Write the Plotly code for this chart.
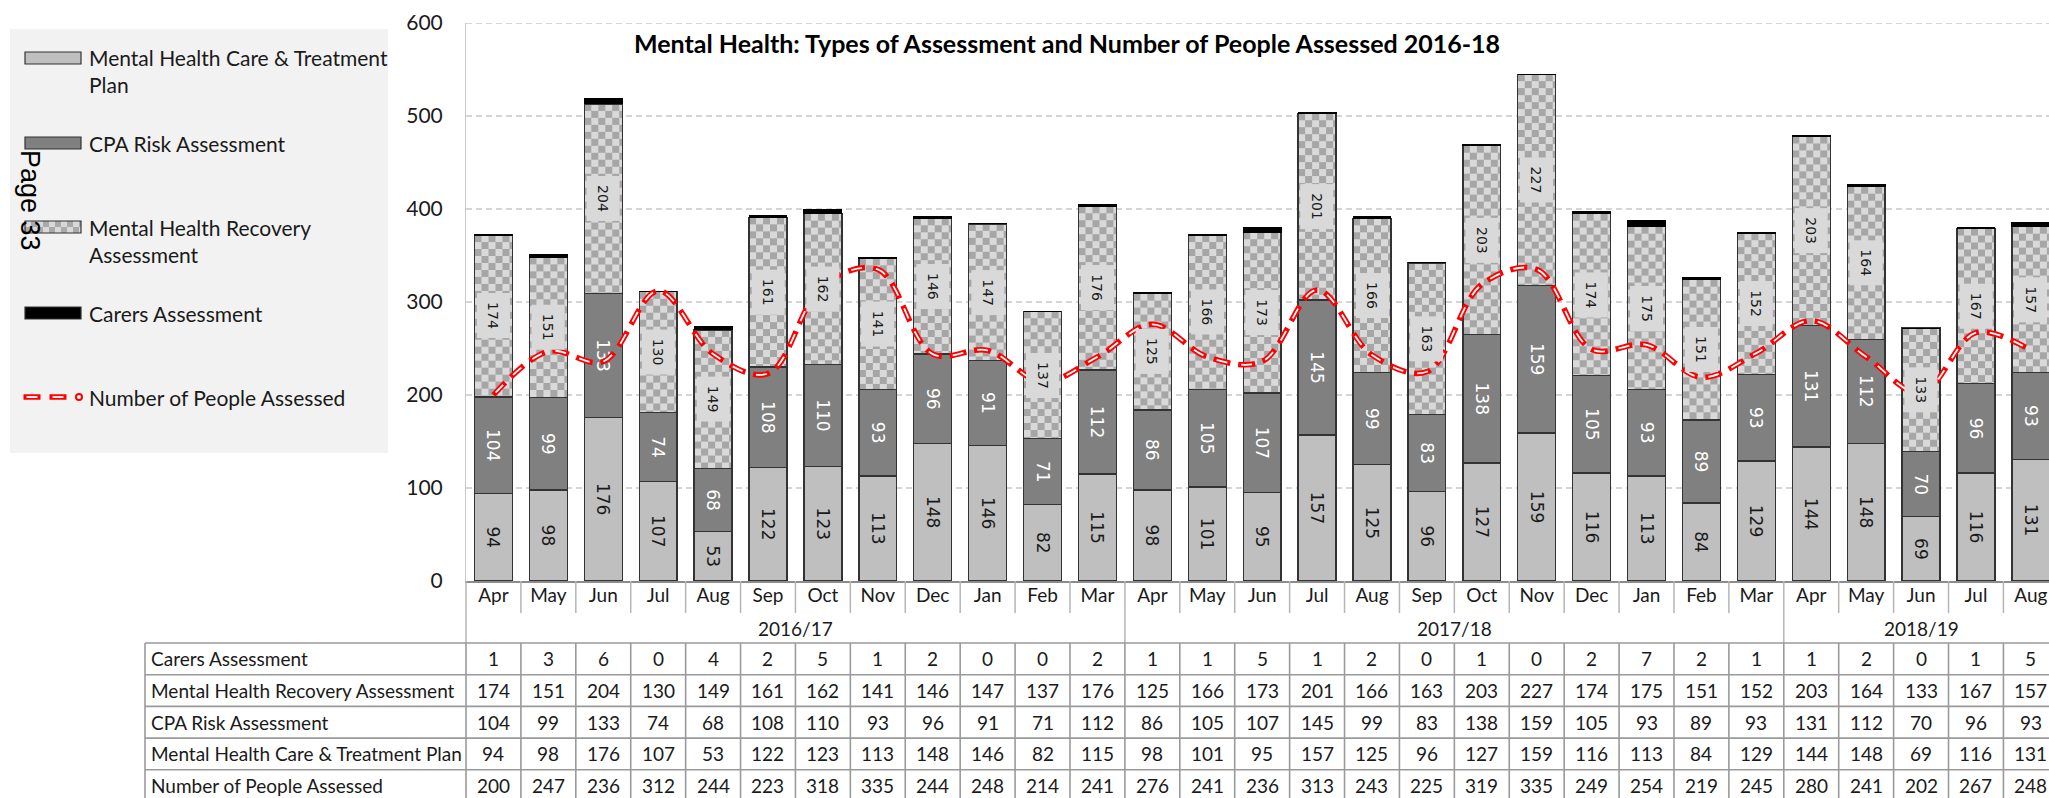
import base64
import struct
import zlib
import plotly.graph_objects as go

# ---------------- data ----------------
months = ["Apr", "May", "Jun", "Jul", "Aug", "Sep", "Oct", "Nov", "Dec", "Jan", "Feb", "Mar",
          "Apr", "May", "Jun", "Jul", "Aug", "Sep", "Oct", "Nov", "Dec", "Jan", "Feb", "Mar",
          "Apr", "May", "Jun", "Jul", "Aug"]
years = ["2016/17"] * 12 + ["2017/18"] * 12 + ["2018/19"] * 5
carers = [1, 3, 6, 0, 4, 2, 5, 1, 2, 0, 0, 2,
          1, 1, 5, 1, 2, 0, 1, 0, 2, 7, 2, 1,
          1, 2, 0, 1, 5]
recovery = [174, 151, 204, 130, 149, 161, 162, 141, 146, 147, 137, 176,
            125, 166, 173, 201, 166, 163, 203, 227, 174, 175, 151, 152,
            203, 164, 133, 167, 157]
cpa = [104, 99, 133, 74, 68, 108, 110, 93, 96, 91, 71, 112,
       86, 105, 107, 145, 99, 83, 138, 159, 105, 93, 89, 93,
       131, 112, 70, 96, 93]
care_plan = [94, 98, 176, 107, 53, 122, 123, 113, 148, 146, 82, 115,
             98, 101, 95, 157, 125, 96, 127, 159, 116, 113, 84, 129,
             144, 148, 69, 116, 131]
people = [200, 247, 236, 312, 244, 223, 318, 335, 244, 248, 214, 241,
          276, 241, 236, 313, 243, 225, 319, 335, 249, 254, 219, 245,
          280, 241, 202, 267, 248]
y_ticks = [0, 100, 200, 300, 400, 500, 600]

name_care = "Mental Health Care & Treatment Plan"
name_cpa = "CPA Risk Assessment"
name_rec = "Mental Health Recovery Assessment"
name_carers = "Carers Assessment"
name_people = "Number of People Assessed"
title_text = "Mental Health: Types of Assessment and Number of People Assessed 2016-18"

table_rows = [(name_carers, carers), (name_rec, recovery), (name_cpa, cpa),
              (name_care, care_plan), (name_people, people)]

# ---------------- geometry ----------------
W, H = 2049, 798
ML, MT, MB, MR = 466, 23, 217, 0
PH = H - MT - MB
PW = W - ML - MR
XR = [-0.5, 28.33]
BW = 0.69
n = len(months)
xs = list(range(n))

FONT = "Lato"
LABEL_FONT = "DejaVu Sans"
TXT = "#1a1a1a"


def px_x(p):
    return (p - ML) / PW


def px_y(p):
    return (H - MB - p) / PH


def cat_paper(v):
    return (v - XR[0]) / (XR[1] - XR[0])


def checker_png(w, h, cell, c1, c2):
    rows = []
    for yy in range(h):
        row = bytearray([0])
        for xx in range(w):
            row += bytes(c1 if ((xx // cell + yy // cell) % 2 == 0) else c2)
        rows.append(bytes(row))
    raw = b"".join(rows)

    def chunk(t, d):
        c = struct.pack(">I", len(d)) + t + d
        return c + struct.pack(">I", zlib.crc32(t + d) & 0xFFFFFFFF)

    png = (b"\x89PNG\r\n\x1a\n"
           + chunk(b"IHDR", struct.pack(">IIBBBBB", w, h, 8, 2, 0, 0, 0))
           + chunk(b"IDAT", zlib.compress(raw, 9))
           + chunk(b"IEND", b""))
    return "data:image/png;base64," + base64.b64encode(png).decode()


CHECK = checker_png(38, 520, 7, (166, 166, 166), (217, 217, 217))
CHECK_SW = checker_png(56, 12, 6, (217, 217, 217), (170, 170, 170))
OUTLINE = dict(color="#333333", width=1.3)

fig = go.Figure()

fig.add_bar(x=xs, y=care_plan, width=BW, name=name_care,
            marker=dict(color="#bfbfbf", line=OUTLINE),
            text=care_plan, textposition="inside", insidetextanchor="middle",
            textangle=90, constraintext="none",
            textfont=dict(family=LABEL_FONT, size=17, color=TXT))
fig.add_bar(x=xs, y=cpa, width=BW, name=name_cpa,
            marker=dict(color="#808080", line=OUTLINE),
            text=cpa, textposition="inside", insidetextanchor="middle",
            textangle=90, constraintext="none",
            textfont=dict(family=LABEL_FONT, size=17, color="white"))
fig.add_bar(x=xs, y=recovery, width=BW, name=name_rec,
            marker=dict(color="rgba(0,0,0,0)", line=OUTLINE))
fig.add_bar(x=xs, y=carers, width=BW, name=name_carers,
            marker=dict(color="#000000", line=dict(color="#000000", width=1)))

fig.add_scatter(x=xs, y=people, mode="lines", name=name_people,
                line=dict(color="#ff0000", width=5.5, dash="17px,8px",
                          shape="spline", smoothing=1))
fig.add_scatter(x=xs, y=people, mode="lines", showlegend=False, hoverinfo="skip",
                line=dict(color="white", width=1.8, dash="0px,3px,11px,11px",
                          shape="spline", smoothing=1))

# checker fill of the recovery segments
images = []
for i in xs:
    top = care_plan[i] + cpa[i] + recovery[i]
    images.append(dict(source=CHECK, xref="x", yref="y", x=i - BW / 2, y=top,
                       sizex=BW, sizey=recovery[i], xanchor="left", yanchor="top",
                       sizing="fill", layer="below"))

shapes = []
annotations = []

# gridlines
for v in y_ticks[1:]:
    shapes.append(dict(type="line", xref="paper", yref="y", x0=0, x1=1, y0=v, y1=v,
                       line=dict(color="#c8c8c8", width=1.3, dash="6px,4px"), layer="below"))

# recovery labels with boxes
for i in xs:
    mid = care_plan[i] + cpa[i] + recovery[i] / 2
    annotations.append(dict(x=i, y=mid, xref="x", yref="y", text=str(recovery[i]),
                            textangle=90, showarrow=False, bgcolor="#d9d9d9",
                            width=44, height=32, borderpad=0,
                            xanchor="center", yanchor="middle",
                            font=dict(family=LABEL_FONT, size=14, color=TXT)))

# ---- category axis area and table ----
AX_Y = H - MB              # 581
MONTH_BOTTOM = 613
TABLE_TOP = 643
ROW_H = 31.7
SEP = dict(color="#b5b5b5", width=1.5)
GRID = dict(color="#9a9a9a", width=1.6)
group_bounds = [i for i in range(1, n) if years[i] != years[i - 1]]

for b in range(n + 1):
    xp = cat_paper(b - 0.5)
    if xp > 1.01:
        continue
    is_group = b == 0 or b in group_bounds
    shapes.append(dict(type="line", xref="paper", yref="paper", x0=xp, x1=xp,
                       y0=px_y(AX_Y), y1=px_y(TABLE_TOP if is_group else MONTH_BOTTOM),
                       line=SEP))
    shapes.append(dict(type="line", xref="paper", yref="paper", x0=xp, x1=xp,
                       y0=px_y(TABLE_TOP), y1=px_y(H + 10), line=GRID))

# year labels
start = 0
for b in group_bounds + [n]:
    annotations.append(dict(x=(start + b - 1) / 2, y=px_y(628), xref="x", yref="paper",
                            text=years[start], showarrow=False,
                            xanchor="center", yanchor="middle",
                            font=dict(family=FONT, size=19, color=TXT)))
    start = b

TABLE_LEFT = 145
shapes.append(dict(type="line", xref="paper", yref="paper", x0=px_x(TABLE_LEFT), x1=px_x(TABLE_LEFT),
                   y0=px_y(TABLE_TOP), y1=px_y(H + 10), line=GRID))
for k in range(len(table_rows) + 1):
    yy = TABLE_TOP + k * ROW_H
    shapes.append(dict(type="line", xref="paper", yref="paper", x0=px_x(TABLE_LEFT), x1=1.01,
                       y0=px_y(yy), y1=px_y(yy), line=GRID))

for k, (label, vals) in enumerate(table_rows):
    yc = px_y(TABLE_TOP + (k + 0.5) * ROW_H)
    annotations.append(dict(x=px_x(TABLE_LEFT + 4), y=yc, xref="paper", yref="paper",
                            text=label, showarrow=False, xanchor="left", yanchor="middle",
                            font=dict(family=FONT, size=19, color=TXT)))
    for i in xs:
        annotations.append(dict(x=i, y=yc, xref="x", yref="paper", text=str(vals[i]),
                                showarrow=False, xanchor="center", yanchor="middle",
                                font=dict(family=FONT, size=19, color=TXT)))

# ---- custom legend ----
shapes.append(dict(type="rect", xref="paper", yref="paper", x0=px_x(10), x1=px_x(388),
                   y0=px_y(29), y1=px_y(453), fillcolor="#f2f2f2", line=dict(width=0),
                   layer="below"))
SW0, SW1 = 25, 81
legend_items = [
    (52, "#bfbfbf", "Mental Health Care & Treatment<br>Plan", 70.5),
    (137, "#808080", name_cpa, 143),
    (221, None, "Mental Health Recovery<br>Assessment", 241.5),
    (307, "#000000", name_carers, 313),
]
for top, col, txt, ty in legend_items:
    if col is None:
        images.append(dict(source=CHECK_SW, xref="paper", yref="paper", x=px_x(SW0), y=px_y(top),
                           sizex=(SW1 - SW0) / PW, sizey=12 / PH, xanchor="left",
                           yanchor="top", sizing="stretch", layer="above"))
        shapes.append(dict(type="rect", xref="paper", yref="paper", x0=px_x(SW0), x1=px_x(SW1),
                           y0=px_y(top), y1=px_y(top + 12), line=dict(color="#333333", width=1.2)))
    else:
        shapes.append(dict(type="rect", xref="paper", yref="paper", x0=px_x(SW0), x1=px_x(SW1),
                           y0=px_y(top), y1=px_y(top + 12), fillcolor=col,
                           line=dict(color="#333333", width=1.2)))
    annotations.append(dict(x=px_x(87), y=px_y(ty), xref="paper", yref="paper", text=txt,
                            showarrow=False, xanchor="left", yanchor="middle", align="left",
                            font=dict(family=FONT, size=21, color=TXT)))

# line swatch
for a, b in [(23.5, 40.5), (49.5, 66.5)]:
    shapes.append(dict(type="line", xref="paper", yref="paper", x0=px_x(a), x1=px_x(b),
                       y0=px_y(397), y1=px_y(397), line=dict(color="#ff0000", width=5.5)))
    shapes.append(dict(type="line", xref="paper", yref="paper", x0=px_x(a + 3), x1=px_x(b - 3),
                       y0=px_y(397), y1=px_y(397), line=dict(color="white", width=1.8)))
shapes.append(dict(type="circle", xref="paper", yref="paper", x0=px_x(76), x1=px_x(82),
                   y0=px_y(400), y1=px_y(394), fillcolor="white",
                   line=dict(color="#ff0000", width=2)))
annotations.append(dict(x=px_x(87), y=px_y(397), xref="paper", yref="paper", text=name_people,
                        showarrow=False, xanchor="left", yanchor="middle",
                        font=dict(family=FONT, size=21, color=TXT)))

# page marker
annotations.append(dict(x=px_x(30), y=px_y(200), xref="paper", yref="paper", text="Page 33",
                        textangle=90, showarrow=False, xanchor="center", yanchor="middle",
                        font=dict(family="Liberation Sans", size=27, color="#000000")))

# title
annotations.append(dict(x=px_x(1067), y=px_y(43), xref="paper", yref="paper",
                        text="<b>" + title_text + "</b>", showarrow=False,
                        xanchor="center", yanchor="middle",
                        font=dict(family=FONT, size=25, color="#000000")))

fig.update_layout(
    width=W, height=H, autosize=False,
    margin=dict(l=ML, r=MR, t=MT, b=MB, pad=0),
    paper_bgcolor="white", plot_bgcolor="rgba(0,0,0,0)",
    barmode="stack", bargap=0.31, showlegend=False,
    shapes=shapes, annotations=annotations, images=images,
    xaxis=dict(range=XR, tickmode="array", tickvals=xs, ticktext=months,
               showgrid=False, zeroline=False, showline=True, linecolor="#8c8c8c",
               linewidth=2, ticks="", ticklabelstandoff=-4,
               tickfont=dict(family=FONT, size=19, color=TXT)),
    yaxis=dict(range=[0, 600], tickmode="array", tickvals=y_ticks, showgrid=False,
               zeroline=False, showline=True, linecolor="#c8c8c8", linewidth=1,
               ticks="", ticklabelstandoff=18,
               tickfont=dict(family=FONT, size=21, color=TXT)),
)

fig.write_html("out.html", config={"displayModeBar": False},
               post_script="document.body.style.margin='0px';")
